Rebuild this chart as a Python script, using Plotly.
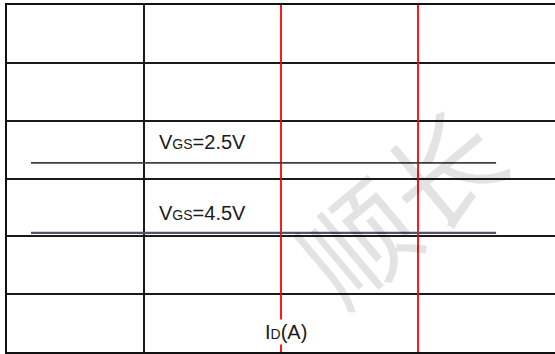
import plotly.graph_objects as go

# Axis divisions (I_D axis has 4 columns, vertical axis 6 rows)
x_divisions = [0, 1, 2, 3, 4]
y_divisions = [0, 1, 2, 3, 4, 5, 6]

# Highlighted I_D values (red markers)
red_marker_x = [2, 3]

# Curves: constant levels for each gate voltage
vgs_labels = ["2.5V", "4.5V"]
curve_x = [0.175, 3.57]
curve_levels = [3.27, 2.06]
label_levels = [3.63, 2.41]
label_x = 1.095

grid_x = [v for v in x_divisions if v not in red_marker_x]

fig = go.Figure()

# red vertical markers
for xv in red_marker_x:
    fig.add_trace(go.Scatter(x=[xv, xv], y=[y_divisions[0], y_divisions[-1]],
                             mode="lines", line=dict(color="#ff0000", width=1.8),
                             hoverinfo="skip", showlegend=False))

# VGS curves
curve_styles = [dict(color="#3c3f44", width=1.6), dict(color="#4e5566", width=2.4)]
for lvl, st in zip(curve_levels, curve_styles):
    fig.add_trace(go.Scatter(x=curve_x, y=[lvl, lvl], mode="lines", line=st,
                             hoverinfo="skip", showlegend=False))

annotations = []
# faint watermark (drawn first, underneath the labels)
annotations.append(dict(
    x=2.85, y=2.6, xref="x", yref="y", xanchor="center", yanchor="middle",
    text="顺长", showarrow=False, textangle=-40,
    font=dict(family="Noto Sans CJK SC", size=112, color="rgba(0,0,0,0.11)")))

for lab, ly in zip(vgs_labels, label_levels):
    annotations.append(dict(
        x=label_x, y=ly, xref="x", yref="y", xanchor="left", yanchor="middle",
        text="V<span style='font-size:14px'>GS</span>=" + lab, showarrow=False,
        font=dict(family="Liberation Sans, Arial", size=20, color="#1a1a1a")))

annotations.append(dict(
    x=1.87, y=0.35, xref="x", yref="y", xanchor="left", yanchor="middle",
    text="I<span style='font-size:14px'>D</span>(A)", showarrow=False,
    bgcolor="white", borderpad=1,
    font=dict(family="Liberation Sans, Arial", size=20, color="#1a1a1a")))

fig.update_layout(
    width=555, height=354,
    margin=dict(l=7, r=0, t=5, b=2),
    paper_bgcolor="white", plot_bgcolor="white",
    annotations=annotations,
    xaxis=dict(range=[x_divisions[0], x_divisions[-1]], tickvals=grid_x,
               showticklabels=False, ticks="", showgrid=True,
               gridcolor="#1a1a1a", gridwidth=1.5, zeroline=False,
               showline=True, linecolor="#111111", linewidth=2, mirror=True),
    yaxis=dict(range=[y_divisions[0], y_divisions[-1]], tickvals=y_divisions,
               showticklabels=False, ticks="", showgrid=True,
               gridcolor="#1a1a1a", gridwidth=1.5, zeroline=False,
               showline=True, linecolor="#111111", linewidth=2, mirror=False),
)

fig.write_html("out.html", config={"displayModeBar": False},
               post_script="document.body.style.margin='0';document.body.style.padding='0';")
